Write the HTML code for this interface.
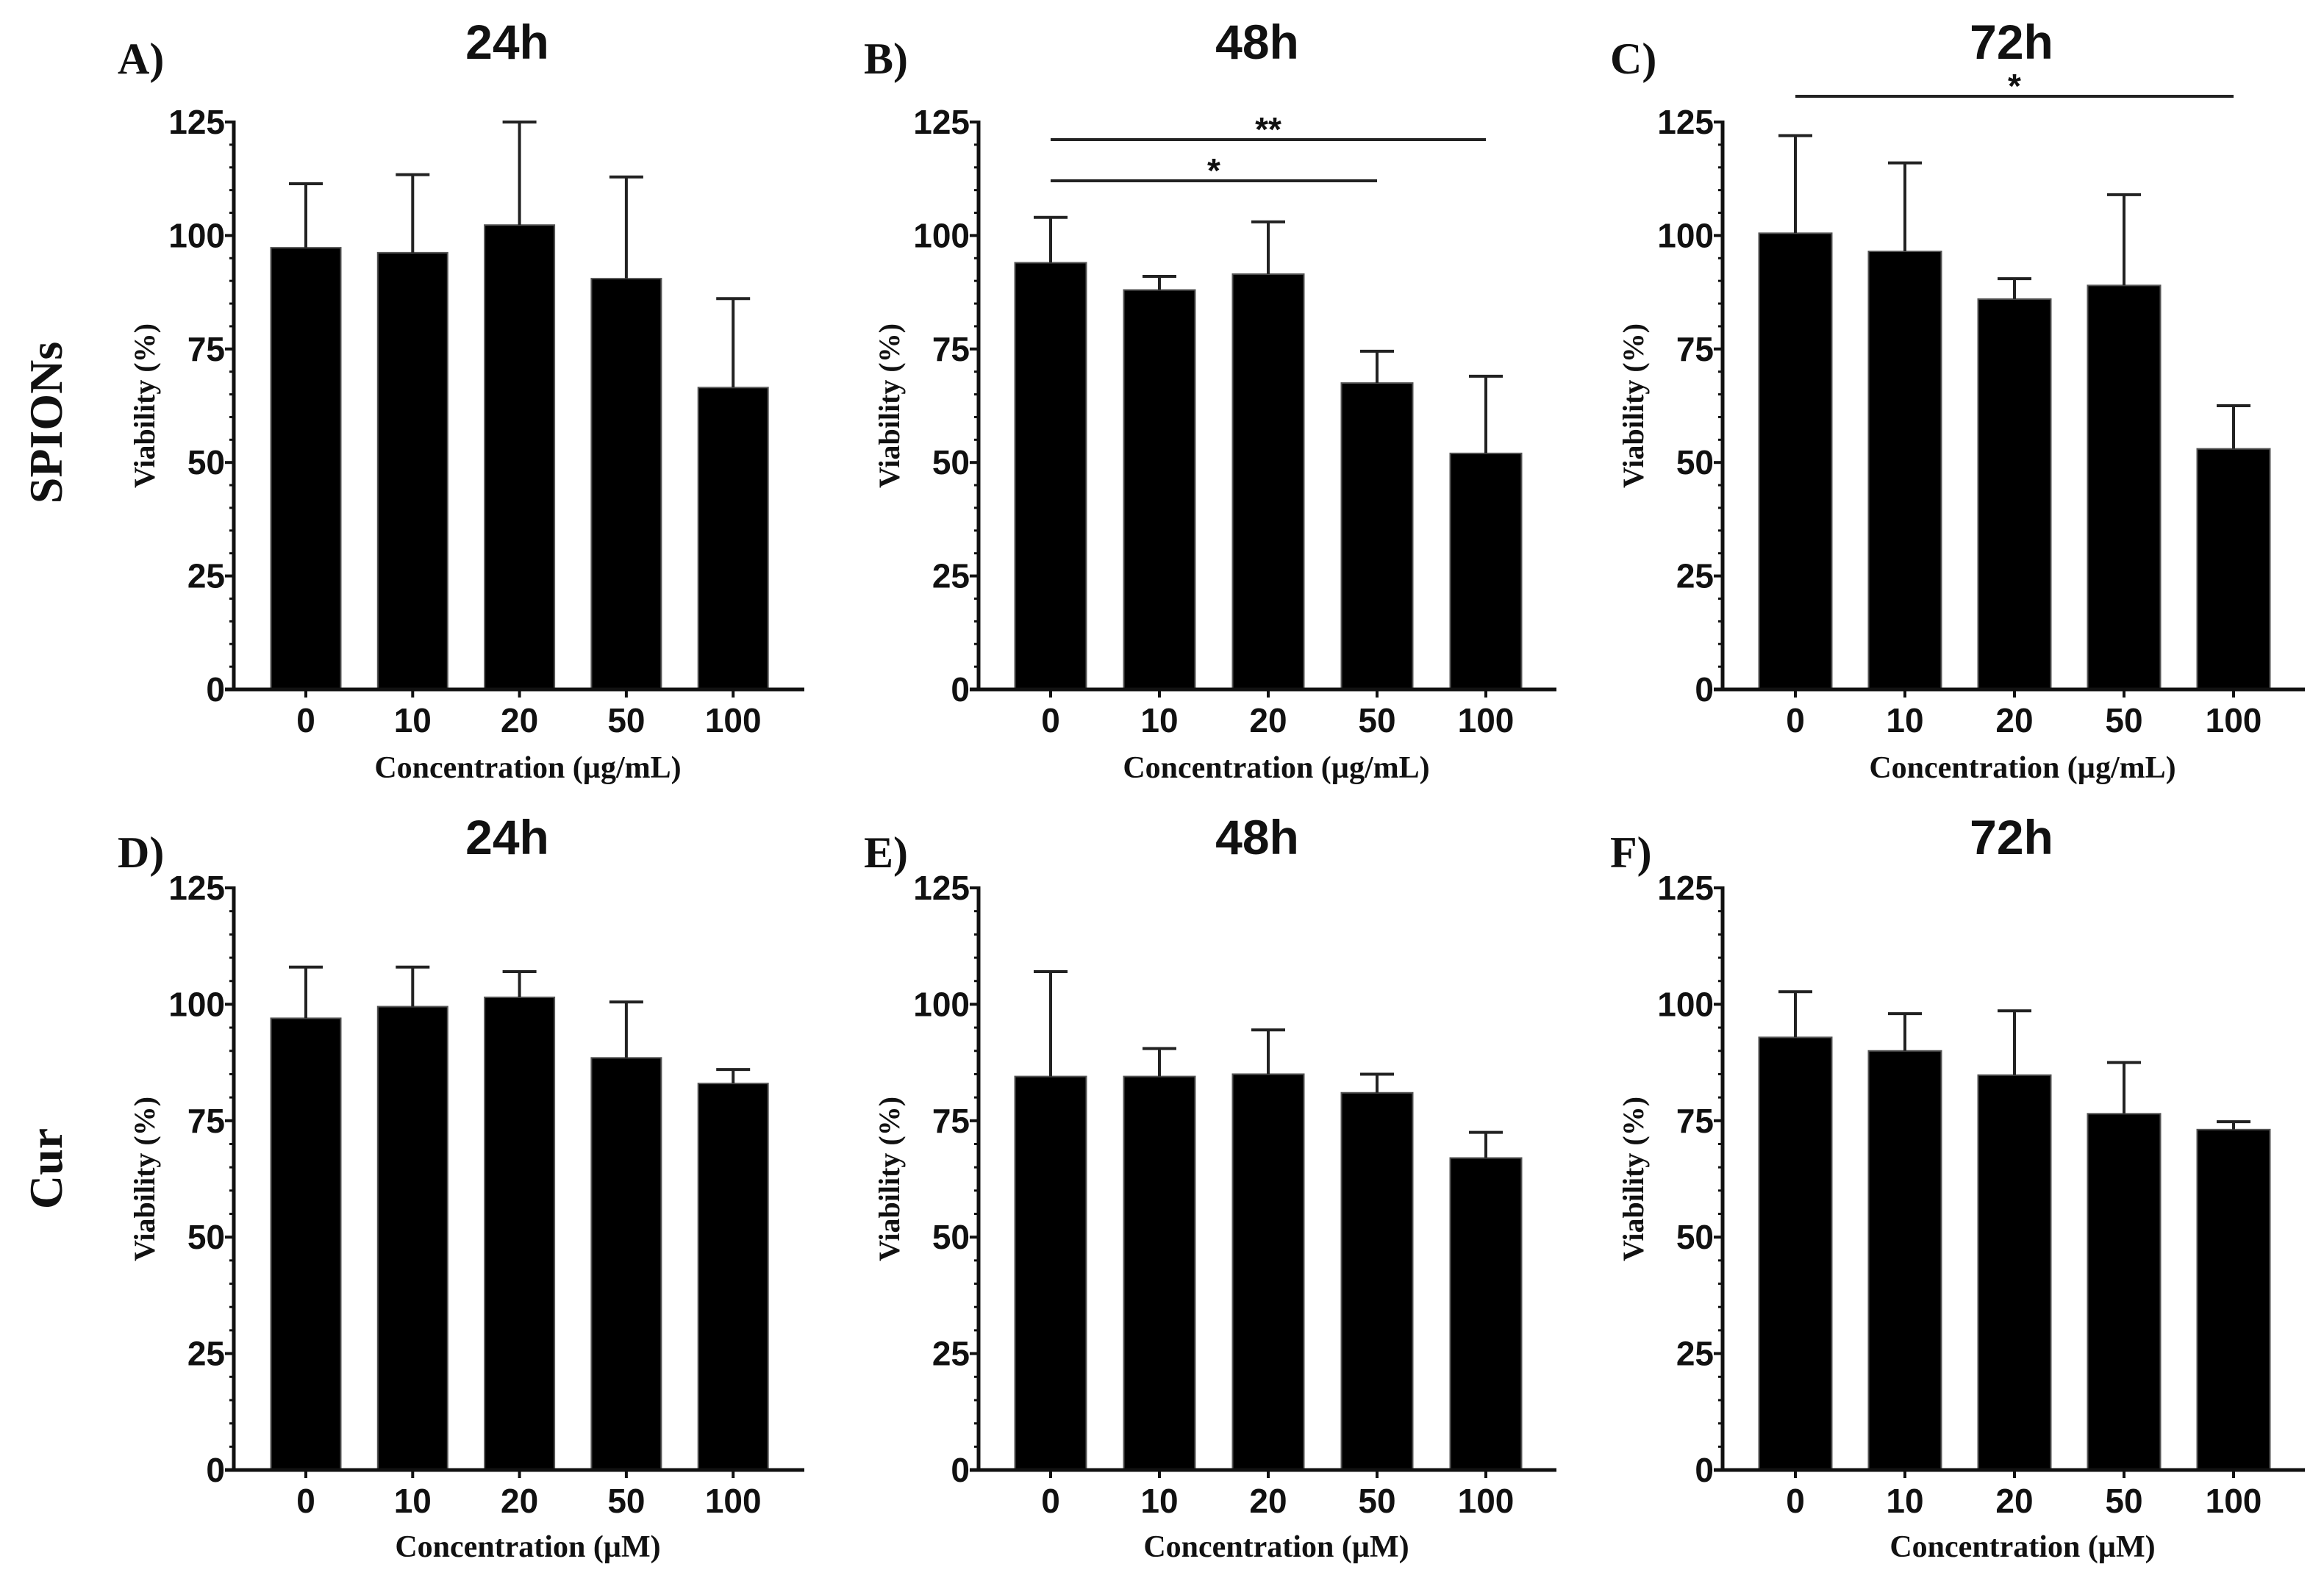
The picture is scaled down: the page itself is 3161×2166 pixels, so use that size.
<!DOCTYPE html>
<html><head><meta charset="utf-8">
<style>
html,body{margin:0;padding:0;background:#fff;}
svg{display:block;}
.tk{font-family:"Liberation Sans",Arial,sans-serif;font-weight:bold;font-size:46px;fill:#111;}
.ttl{font-family:"Liberation Sans",Arial,sans-serif;font-weight:bold;font-size:66px;fill:#111;}
.ser{font-family:"Liberation Serif","Times New Roman",serif;font-weight:bold;fill:#111;}
</style></head>
<body>
<svg id="fig" width="3161" height="2166" viewBox="0 0 3161 2166" xmlns="http://www.w3.org/2000/svg">
<text class="ser" font-size="64" transform="translate(84,575) rotate(-90)" text-anchor="middle">SPIONs</text>
<text class="ser" font-size="64" transform="translate(84,1590) rotate(-90)" text-anchor="middle">Cur</text>
</svg>
<script>
const categories = ["0","10","20","50","100"];
const yTicks = [0,25,50,75,100,125];
const meanA = [97.3,96.2,102.3,90.5,66.5];
const errA  = [111.4,113.4,125,112.9,86.1];
const meanB = [94,88,91.5,67.5,52];
const errB  = [104,91,103,74.5,69];
const meanC = [100.5,96.5,86,89,53];
const errC  = [122,116,90.5,109,62.5];
const meanD = [97,99.5,101.5,88.5,83];
const errD  = [108,108,107,100.5,86];
const meanE = [84.5,84.5,85,81,67];
const errE  = [107,90.5,94.5,85,72.5];
const meanF = [92.9,90,84.8,76.5,73.1];
const errF  = [102.7,98,98.6,87.5,74.8];
const titles = ["24h","48h","72h","24h","48h","72h"];
const letters = ["A)","B)","C)","D)","E)","F)"];
const xlabels = ["Concentration (µg/mL)","Concentration (µM)"];

const NS="http://www.w3.org/2000/svg";
const svg=document.getElementById('fig');
function mk(tag,attrs,parent){const e=document.createElementNS(NS,tag);for(const k in attrs)e.setAttribute(k,attrs[k]);(parent||svg).appendChild(e);return e;}

const cols=[{ax:318,c0:416,sp:145.3,bw:95,end:1094,tx:690,lx:160},
            {ax:1331,c0:1429,sp:148,bw:97,end:2117,tx:1710,lx:1175},
            {ax:2343,c0:2442,sp:149,bw:99,end:3135,tx:2736,lx:2190}];
const rows=[{y0:938,y125:166,ty:56,ly:80,tl:980,xl:1044},
            {y0:2000,y125:1208,ty:1138,ly:1160,tl:2042,xl:2104}];
const means=[meanA,meanB,meanC,meanD,meanE,meanF];
const errs=[errA,errB,errC,errD,errE,errF];

for(let p=0;p<6;p++){
  const c=cols[p%3], r=rows[Math.floor(p/3)];
  const g=mk('g',{});
  
  
  const yS=v=>r.y0-(r.y0-r.y125)*v/125;
  const xS=i=>c.c0+c.sp*i;
  means[p].forEach((m,i)=>{
    const b=mk('rect',{x:xS(i)-c.bw/2,y:yS(m),width:c.bw,height:r.y0-yS(m),fill:'#000',stroke:'#555','stroke-width':2},g);
    
    
    const e=mk('path',{d:`M${xS(i)} ${yS(m)}V${yS(errs[p][i])}M${xS(i)-23} ${yS(errs[p][i])}H${xS(i)+23}`,stroke:'#222','stroke-width':4,fill:'none'},g);
    
    
  });
  const ya=mk('line',{x1:c.ax,y1:r.y125-2,x2:c.ax,y2:r.y0,stroke:'#111','stroke-width':5},g);
  
  
  const xa=mk('line',{x1:c.ax-12,y1:r.y0,x2:c.end,y2:r.y0,stroke:'#111','stroke-width':5},g);
  
  
  for(let v=0;v<=125;v+=5){
    const maj=v%25===0;
    mk('line',{x1:c.ax-(maj?12:6),y1:yS(v),x2:c.ax,y2:yS(v),stroke:'#111','stroke-width':maj?4:3},g);
  }
  yTicks.forEach(v=>{
    const t=mk('text',{class:'tk',x:c.ax-12,y:yS(v)+16,'text-anchor':'end'},g);
    t.textContent=v;
    
    
  });
  categories.forEach((cat,i)=>{
    mk('line',{x1:xS(i),y1:r.y0,x2:xS(i),y2:r.y0+11,stroke:'#111','stroke-width':4},g);
    const t=mk('text',{class:'tk',x:xS(i),y:r.tl+16,'text-anchor':'middle'},g);
    t.textContent=cat;
    
    
  });
  const xt=mk('text',{class:'ser','font-size':42,x:(c.ax+c.end)/2+12,y:r.xl+14,'text-anchor':'middle'},g);
  xt.textContent=xlabels[Math.floor(p/3)];
  
  
  const yt=mk('text',{class:'ser','font-size':40,transform:`translate(${c.ax-108},${(r.y0+r.y125)/2}) rotate(-90)`,'text-anchor':'middle'},g);
  yt.textContent='Viability (%)';
  
  
  const tt=mk('text',{class:'ttl',x:c.tx,y:r.ty+24,'text-anchor':'middle'},g);
  tt.textContent=titles[p];
  
  
  const lt=mk('text',{class:'ser','font-size':60,x:c.lx,y:r.ly+20},g);
  lt.textContent=letters[p];
  
  
}
const sig=[{col:1,row:0,a:0,b:3,y:246,s:"*"},{col:1,row:0,a:0,b:4,y:190,s:"**"},{col:2,row:0,a:0,b:4,y:131,s:"*"}];
sig.forEach(q=>{
  const c=cols[q.col];
  const l=mk('line',{x1:c.c0+c.sp*q.a,y1:q.y,x2:c.c0+c.sp*q.b,y2:q.y,stroke:'#222','stroke-width':4});
  
  
  const t=mk('text',{class:'tk','font-size':26,x:(c.c0+c.sp*(q.a+q.b)/2),y:q.y+2,'text-anchor':'middle'});
  t.textContent=q.s;
  
  
});
</script>
</body></html>
